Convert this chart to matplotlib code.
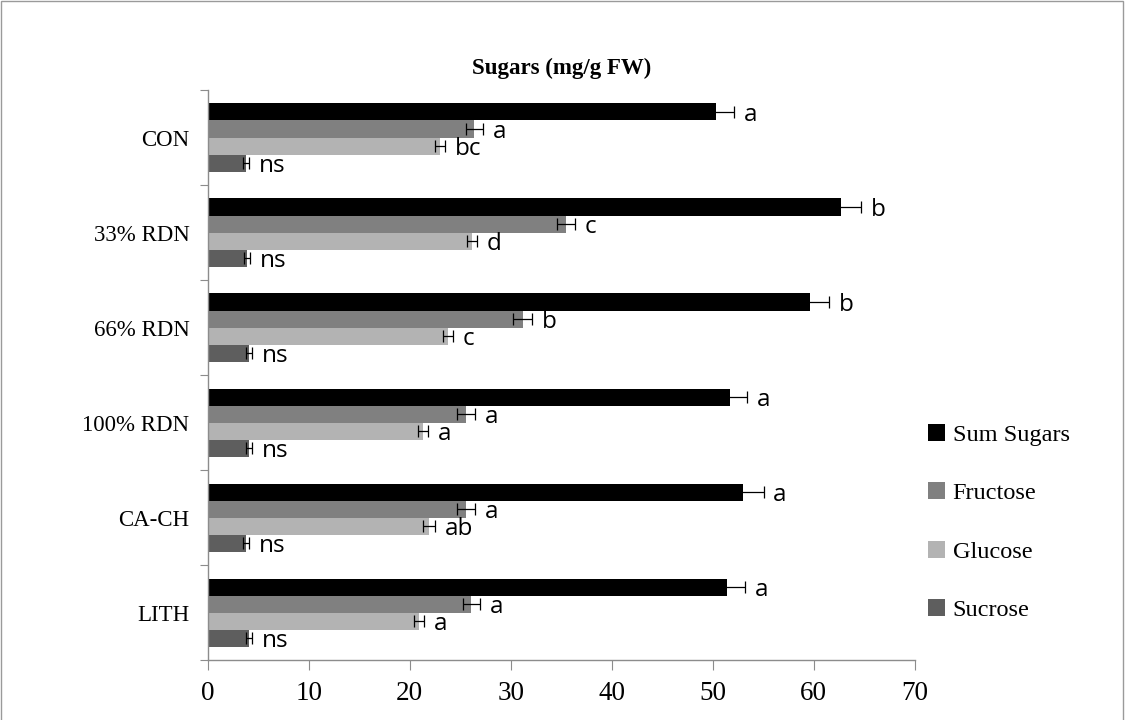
import numpy as np
import matplotlib.pyplot as plt
from matplotlib.patches import Patch, Rectangle

# Données
categories = ['CON', '33% RDN', '66% RDN', '100% RDN', 'CA-CH', 'LITH']
series = ['Sum Sugars', 'Fructose', 'Glucose', 'Sucrose']

sum_sugars = [50.3, 62.7, 59.6, 51.7, 53.0, 51.4]
fructose = [26.4, 35.5, 31.2, 25.6, 25.6, 26.1]
glucose = [23.0, 26.2, 23.8, 21.3, 21.9, 20.9]
sucrose = [3.8, 3.9, 4.1, 4.1, 3.8, 4.1]

sum_err = [1.8, 2.0, 1.9, 1.75, 2.05, 1.8]
fructose_err = [0.87, 0.87, 0.94, 0.87, 0.87, 0.86]
glucose_err = [0.53, 0.5, 0.53, 0.5, 0.58, 0.5]
sucrose_err = [0.3, 0.3, 0.3, 0.3, 0.3, 0.3]

sum_letters = ['a', 'b', 'b', 'a', 'a', 'a']
fructose_letters = ['a', 'c', 'b', 'a', 'a', 'a']
glucose_letters = ['bc', 'd', 'c', 'a', 'ab', 'a']
sucrose_letters = ['ns', 'ns', 'ns', 'ns', 'ns', 'ns']

colors = ['#000000', '#808080', '#b3b3b3', '#5e5e5e']

values = [sum_sugars, fructose, glucose, sucrose]
errors = [sum_err, fructose_err, glucose_err, sucrose_err]
letters = [sum_letters, fructose_letters, glucose_letters, sucrose_letters]

serif = 'Liberation Serif'
sans = 'Open Sans'
axis_grey = '#8c8c8c'

fig = plt.figure(figsize=(11.25, 7.2), dpi=100)
ax = fig.add_axes([0.1846, 0.0833, 0.6284, 0.7917])

y = np.arange(len(categories))
h = 0.179
offsets = [-1.5 * h, -0.5 * h, 0.5 * h, 1.5 * h]

for vals, errs, labs, col, off in zip(values, errors, letters, colors, offsets):
    ax.barh(y + off, vals, height=h, color=col, edgecolor='none', zorder=2)
    ax.errorbar(vals, y + off, xerr=errs, fmt='none', ecolor='black',
                elinewidth=0.9, capsize=4.5, capthick=0.9, zorder=3)
    for v, e, yy, lab in zip(vals, errs, y + off, labs):
        ax.annotate(lab, (v + e, yy), xytext=(7, -2), textcoords='offset points',
                    ha='left', va='center', fontsize=17.5, family=sans)

ax.set_xlim(0, 70)
ax.set_ylim(len(categories) - 0.5, -0.5)
ax.set_xticks(np.arange(0, 71, 10))
ax.tick_params(axis='x', direction='out', length=7, color=axis_grey, pad=8,
               labelsize=19.5)
for t in ax.get_xticklabels():
    t.set_family(serif)

ax.set_yticks(np.arange(-0.5, len(categories), 1.0))
ax.set_yticklabels([])
ax.set_yticks(y, minor=True)
ax.set_yticklabels(categories, minor=True, family=serif, fontsize=16.5)
ax.tick_params(axis='y', which='major', direction='out', length=6, color=axis_grey)
ax.tick_params(axis='y', which='minor', length=0, pad=13)

for s in ['top', 'right']:
    ax.spines[s].set_visible(False)
for s in ['left', 'bottom']:
    ax.spines[s].set_color(axis_grey)
    ax.spines[s].set_linewidth(1)

fig.text(0.4996, 0.905, 'Sugars (mg/g FW)', ha='center', va='center',
         fontsize=16.5, fontweight='bold', family=serif)

handles = [Patch(facecolor=c, edgecolor='none') for c in colors]
fig.legend(handles, series, loc='center left', bbox_to_anchor=(0.8145, 0.2745),
           frameon=False, prop={'family': serif, 'size': 17.5},
           handlelength=0.7, handleheight=0.7, handletextpad=0.3,
           labelspacing=1.5, borderpad=0)

# cadre autour du graphique
fig.add_artist(Rectangle((0.001, -0.01), 0.997, 1.008, transform=fig.transFigure,
                         fill=False, edgecolor='#9a9a9a', linewidth=1))

fig.savefig('out.png', dpi=100)
